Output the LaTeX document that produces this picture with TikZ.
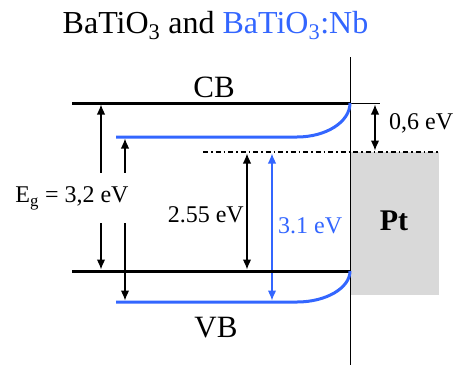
\documentclass[tikz,border=0pt]{standalone}
\usepackage{fontspec}
\setmainfont{Liberation Serif}
\usetikzlibrary{arrows.meta}
\definecolor{nbblue}{RGB}{51,102,255}
\definecolor{ptgray}{RGB}{217,217,217}

\begin{document}
\begin{tikzpicture}[
        x=1pt, y=-1pt,
        band/.style={
            line width=3pt
        },
        nbband/.style={
            line width=3pt,
            draw=nbblue
        },
        arrow/.style={
            {Latex[length=10pt,width=8.5pt]}-{Latex[length=10pt,width=8.5pt]},
            line width=1.2pt,
            shorten >=1.5pt,
            shorten <=1.5pt
        },
        nbarrow/.style={
            arrow,
            draw=nbblue
        },
        txt/.style={
            font=\fontsize{24}{28}\selectfont,
            inner sep=0pt
        },
        bandtxt/.style={
            font=\fontsize{31}{36}\selectfont,
            inner sep=0pt
        }
    ]

        \useasboundingbox (0,0) rectangle (457,365);

        \node[font=\fontsize{32}{38}\selectfont, inner sep=0pt, anchor=base] (title) at (215.5,33)
            {BaTiO\textsubscript{3} and \textcolor{nbblue}{BaTiO\textsubscript{3}:Nb}};

        % band edges and Fermi level
        \coordinate (cbL) at (72,103);
        \coordinate (cbR) at (350,103);
        \coordinate (vbL) at (72,271);
        \coordinate (vbR) at (350,271);
        \coordinate (ncbL) at (116,137);
        \coordinate (nvbL) at (116,302);
        \coordinate (efL) at (203,152);
        \coordinate (efR) at (439,152);

        % arrow positions
        \coordinate (xeg) at (101,0);
        \coordinate (xneg) at (125,0);
        \coordinate (x255) at (247,0);
        \coordinate (x31) at (272,0);
        \coordinate (x06) at (375,0);

        \fill[ptgray] (351,152) rectangle (efR |- 0,295);
        \draw[line width=1pt] (350,57) -- (350,365);
        \draw[line width=0.8pt] (cbR) -- ++(30,0);
        \draw[line width=1.2pt, dash pattern=on 5pt off 3pt on 1.5pt off 3pt] (efL) -- (efR);

        \draw[arrow] (cbL -| xeg) -- (vbL -| xeg);
        \draw[arrow] (ncbL -| xneg) -- (nvbL -| xneg);
        \draw[arrow] (efL -| x255) -- (vbL -| x255);
        \draw[nbarrow] (efL -| x31) -- (nvbL -| x31);
        \draw[arrow] (cbR -| x06) -- (efR -| x06);

        \draw[band] (cbL) -- (cbR);
        \draw[band] (vbL) -- (vbR);
        \draw[nbband] (ncbL) -- (297,137) .. controls (326,137) and (350,122) .. (cbR);
        \draw[nbband] (nvbL) -- (297,302) .. controls (326,302) and (350,288) .. (vbR);

        \node[txt, fill=white, minimum height=50pt] (eg) at (72,198) {E\textsubscript{g} = 3,2 eV};
        \node[txt, anchor=base east] (e255) at (244,222) {2.55 eV};
        \node[txt, anchor=base west, text=nbblue] (e31) at (278,233) {3.1 eV};
        \node[txt, anchor=base west] (e06) at (389,129) {0,6 eV};
        \node[font=\fontsize{30}{36}\selectfont\bfseries, inner sep=0pt, anchor=base] (pt) at (394,230) {Pt};
        \node[bandtxt, anchor=base] (cb) at (214,97) {CB};
        \node[bandtxt, anchor=base] (vb) at (216,337) {VB};

    \end{tikzpicture}
\end{document}
